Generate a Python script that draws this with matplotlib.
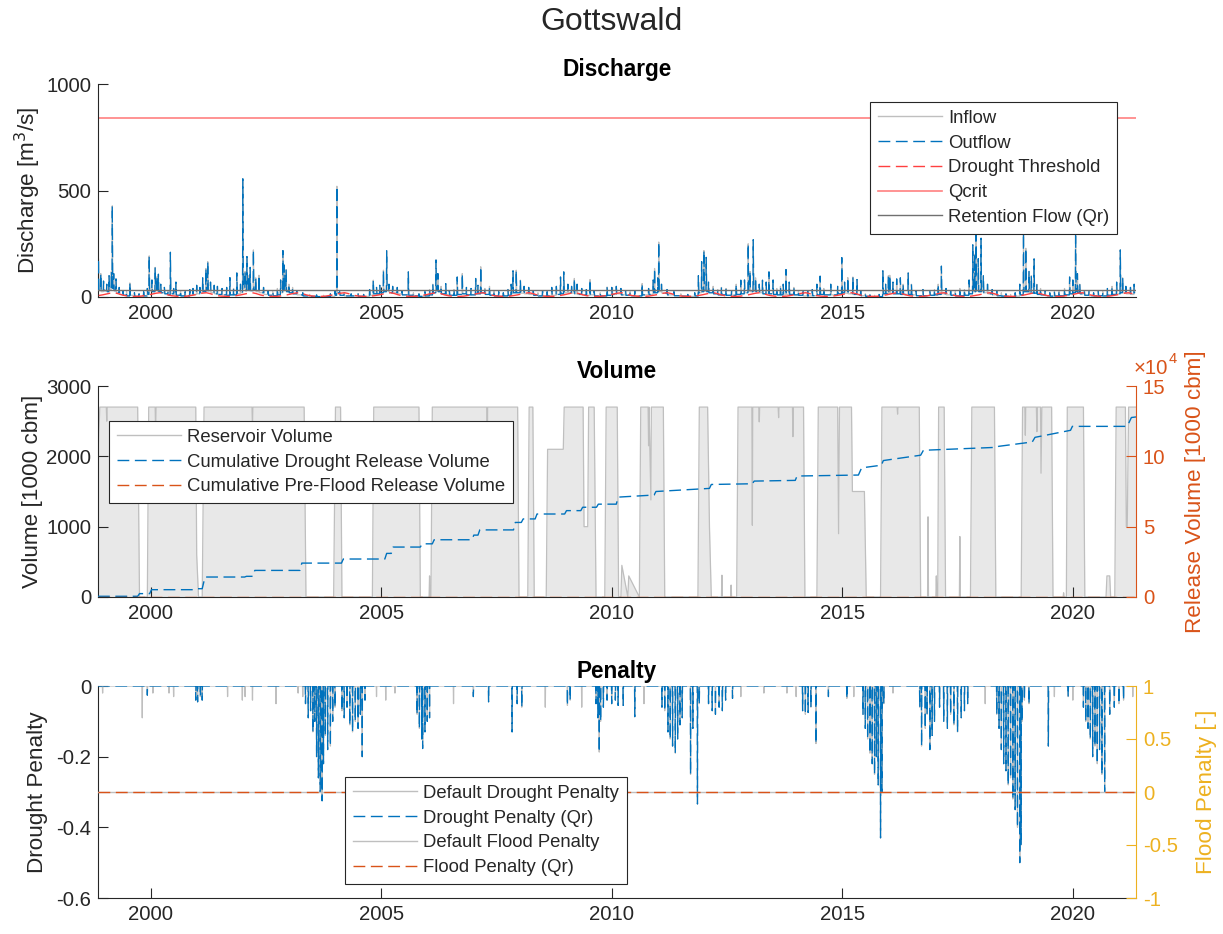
import matplotlib
matplotlib.use("Agg")
import matplotlib.pyplot as plt
from matplotlib.lines import Line2D
from matplotlib.ticker import FuncFormatter
import numpy as np

plt.rcParams['font.family'] = ['Liberation Sans', 'DejaVu Sans']
plt.rcParams['axes.unicode_minus'] = False
plt.rcParams['lines.scale_dashes'] = False

# ---------------- data ----------------
X_START, X_END = 1998.86, 2021.37
years_ticks = [2000, 2005, 2010, 2015, 2020]

# discharge events: time (decimal year), peak [m3/s], low flow after the peak
q_t = [1998.87, 1998.92, 1998.98, 1999.05, 1999.10, 1999.15, 1999.17, 1999.20, 1999.25, 1999.32,
       1999.40, 1999.48, 1999.55, 1999.65, 1999.75, 1999.85, 1999.93, 1999.97, 2000.03, 2000.10,
       2000.14, 2000.17, 2000.22, 2000.30, 2000.38, 2000.43, 2000.50, 2000.55, 2000.65, 2000.75,
       2000.85, 2000.92, 2001.00, 2001.07, 2001.13, 2001.20, 2001.24, 2001.30, 2001.38, 2001.45,
       2001.55, 2001.65, 2001.72, 2001.80, 2001.87, 2001.95, 2002.00, 2002.05, 2002.09, 2002.13,
       2002.16, 2002.23, 2002.28, 2002.35, 2002.45, 2002.55, 2002.65, 2002.75, 2002.82, 2002.87,
       2002.90, 2002.94, 2003.00, 2003.08, 2003.17, 2003.30, 2003.45, 2003.60, 2003.75, 2003.90,
       2004.00, 2004.04, 2004.10, 2004.20, 2004.35, 2004.50, 2004.62, 2004.75, 2004.83, 2004.90,
       2004.97, 2005.05, 2005.12, 2005.17, 2005.25, 2005.35, 2005.45, 2005.59, 2005.70, 2005.82,
       2005.95, 2006.05, 2006.12, 2006.19, 2006.23, 2006.30, 2006.40, 2006.48, 2006.58, 2006.65,
       2006.76, 2006.85, 2006.95, 2007.05, 2007.10, 2007.16, 2007.25, 2007.35, 2007.45, 2007.55,
       2007.65, 2007.75, 2007.82, 2007.86, 2007.93, 2008.02, 2008.10, 2008.20, 2008.30, 2008.40,
       2008.50, 2008.60, 2008.70, 2008.80, 2008.89, 2008.96, 2009.05, 2009.13, 2009.19, 2009.25,
       2009.35, 2009.45, 2009.53, 2009.62, 2009.75, 2009.90, 2010.00, 2010.10, 2010.20, 2010.30,
       2010.40, 2010.50, 2010.66, 2010.80, 2010.90, 2010.93, 2011.00, 2011.02, 2011.08, 2011.20,
       2011.35, 2011.50, 2011.65, 2011.80, 2011.88, 2011.95, 2012.00, 2012.05, 2012.10, 2012.20,
       2012.30, 2012.38, 2012.48, 2012.60, 2012.70, 2012.80, 2012.88, 2012.96, 2013.00, 2013.07,
       2013.12, 2013.20, 2013.27, 2013.35, 2013.41, 2013.50, 2013.58, 2013.66, 2013.72, 2013.78,
       2013.85, 2013.95, 2014.05, 2014.15, 2014.25, 2014.35, 2014.45, 2014.52, 2014.60, 2014.75,
       2014.90, 2014.99, 2015.05, 2015.12, 2015.23, 2015.32, 2015.40, 2015.50, 2015.60, 2015.70,
       2015.80, 2015.88, 2015.94, 2016.00, 2016.03, 2016.10, 2016.18, 2016.26, 2016.32, 2016.43,
       2016.50, 2016.60, 2016.75, 2016.90, 2017.00, 2017.08, 2017.15, 2017.25, 2017.35, 2017.45,
       2017.55, 2017.65, 2017.75, 2017.83, 2017.87, 2017.90, 2017.95, 2018.01, 2018.06, 2018.15,
       2018.25, 2018.35, 2018.45, 2018.55, 2018.65, 2018.75, 2018.85, 2018.93, 2018.98, 2019.05,
       2019.10, 2019.16, 2019.22, 2019.30, 2019.40, 2019.50, 2019.60, 2019.70, 2019.82, 2019.93,
       2020.00, 2020.06, 2020.10, 2020.15, 2020.25, 2020.35, 2020.45, 2020.55, 2020.65, 2020.75,
       2020.85, 2020.95, 2021.03, 2021.08, 2021.15, 2021.25, 2021.33]
q_peak = [180, 110, 75, 60, 100, 120, 428, 110, 85, 45,
          30, 25, 66, 20, 15, 25, 40, 193, 80, 139,
          95, 107, 60, 45, 30, 210, 40, 70, 30, 25,
          35, 40, 55, 45, 90, 134, 166, 70, 55, 50,
          40, 45, 91, 40, 113, 60, 555, 120, 190, 100,
          139, 221, 90, 102, 45, 30, 25, 40, 80, 218,
          150, 129, 60, 45, 30, 20, 12, 10, 8, 15,
          30, 520, 25, 20, 15, 15, 12, 35, 79, 45,
          55, 126, 217, 60, 50, 45, 30, 118, 20, 15,
          25, 35, 60, 174, 110, 50, 63, 30, 35, 94,
          110, 45, 40, 87, 55, 142, 40, 50, 30, 25,
          20, 35, 60, 123, 126, 79, 50, 45, 30, 20,
          30, 25, 45, 50, 94, 118, 60, 50, 87, 60,
          40, 35, 82, 30, 20, 47, 45, 50, 40, 30,
          25, 30, 63, 40, 80, 134, 90, 258, 60, 35,
          25, 15, 12, 20, 100, 166, 218, 186, 70, 50,
          35, 45, 40, 30, 60, 79, 80, 250, 120, 269,
          90, 60, 79, 70, 118, 80, 40, 50, 60, 129,
          70, 45, 30, 25, 30, 35, 60, 98, 40, 60,
          50, 185, 70, 91, 94, 82, 30, 15, 10, 8,
          12, 123, 60, 100, 102, 70, 85, 90, 60, 113,
          60, 30, 35, 25, 35, 60, 145, 40, 30, 25,
          40, 35, 80, 245, 200, 330, 180, 276, 100, 60,
          35, 30, 20, 15, 12, 20, 60, 300, 229, 120,
          100, 179, 60, 40, 30, 20, 25, 30, 40, 94,
          80, 309, 110, 60, 30, 25, 20, 30, 25, 40,
          50, 70, 221, 90, 50, 45, 60]
q_low = [30, 25, 30, 25, 35, 40, 40, 30, 20, 12,
         8, 5, 8, 3, 3, 5, 12, 30, 25, 35,
         30, 25, 20, 15, 10, 15, 10, 8, 5, 5,
         8, 12, 15, 20, 25, 30, 30, 20, 15, 12,
         10, 8, 10, 10, 15, 20, 40, 30, 35, 30,
         30, 35, 25, 20, 12, 8, 6, 10, 20, 30,
         30, 25, 20, 15, 10, 5, 3, 2, 2, 3,
         8, 20, 8, 5, 5, 3, 3, 8, 15, 15,
         20, 25, 30, 20, 20, 15, 10, 8, 5, 3,
         5, 10, 20, 30, 25, 15, 12, 8, 8, 12,
         15, 10, 10, 15, 15, 20, 12, 8, 5, 5,
         5, 8, 15, 20, 20, 18, 15, 12, 8, 5,
         5, 5, 8, 12, 15, 20, 20, 18, 15, 12,
         10, 8, 10, 5, 5, 8, 12, 15, 10, 8,
         6, 5, 10, 12, 20, 20, 25, 25, 18, 10,
         6, 4, 3, 5, 20, 25, 30, 25, 20, 15,
         10, 10, 8, 8, 12, 15, 20, 30, 25, 30,
         25, 20, 15, 15, 15, 12, 10, 10, 10, 12,
         12, 10, 8, 5, 5, 6, 10, 12, 10, 10,
         15, 20, 18, 15, 12, 10, 6, 3, 2, 2,
         2, 15, 15, 18, 18, 15, 15, 12, 12, 12,
         10, 6, 6, 8, 10, 12, 15, 10, 8, 5,
         6, 8, 15, 25, 25, 30, 25, 25, 20, 15,
         10, 6, 4, 3, 2, 4, 10, 25, 25, 20,
         18, 18, 12, 10, 6, 4, 5, 6, 10, 15,
         20, 25, 20, 15, 8, 6, 5, 6, 5, 8,
         12, 15, 20, 20, 15, 12, 20]

# monthly drought threshold [m3/s], Jan..Dec
thr_month = [14, 18, 20, 16, 10, 6, 4, 3, 3, 4, 7, 10]
Q_CRIT = 840
Q_RETENTION = 35

# reservoir volume [1000 cbm]
vol_t = [1998.86, 1998.90, 1999.04, 1999.05, 1999.06, 1999.72, 1999.76, 1999.93, 1999.96, 2000.10,
         2000.11, 2000.12, 2000.98, 2001.00, 2001.04, 2001.12, 2001.16, 2002.20, 2002.21, 2002.22,
         2003.33, 2003.37, 2003.97, 2004.01, 2004.12, 2004.15, 2004.81, 2004.84, 2005.82, 2005.85,
         2006.04, 2006.05, 2006.06, 2006.08, 2006.11, 2007.29, 2007.30, 2007.31, 2007.96, 2007.99,
         2008.18, 2008.21, 2008.29, 2008.32, 2008.58, 2008.61, 2008.95, 2008.97, 2009.38, 2009.40,
         2009.48, 2009.50, 2009.62, 2009.66, 2009.85, 2009.88, 2010.12, 2010.15, 2010.20, 2010.22,
         2010.35, 2010.37, 2010.60, 2010.63, 2010.79, 2010.80, 2010.81, 2010.85, 2010.86, 2011.12,
         2011.15, 2011.87, 2011.90, 2012.08, 2012.12, 2012.16, 2012.38, 2012.39, 2012.40, 2012.58,
         2012.59, 2012.60, 2012.71, 2012.74, 2013.04, 2013.05, 2013.06, 2013.19, 2013.20, 2013.21,
         2013.61, 2013.62, 2013.63, 2013.92, 2013.93, 2013.94, 2014.16, 2014.19, 2014.45, 2014.48,
         2014.90, 2014.92, 2014.94, 2015.20, 2015.22, 2015.48, 2015.52, 2015.83, 2015.86, 2016.19,
         2016.20, 2016.21, 2016.67, 2016.70, 2016.85, 2016.86, 2016.87, 2017.03, 2017.04, 2017.05,
         2017.07, 2017.09, 2017.21, 2017.24, 2017.54, 2017.55, 2017.56, 2017.78, 2017.81, 2018.30,
         2018.33, 2018.88, 2018.91, 2018.96, 2018.97, 2018.98, 2019.21, 2019.22, 2019.23, 2019.30,
         2019.31, 2019.33, 2019.54, 2019.57, 2019.79, 2019.80, 2019.81, 2019.86, 2019.88, 2020.23,
         2020.26, 2020.72, 2020.74, 2020.80, 2020.82, 2020.91, 2020.94, 2021.14, 2021.16, 2021.18,
         2021.21, 2021.37]
vol_v = [2050, 2700, 2700, 2500, 2700, 2700, 0, 0, 2700, 2700,
         2300, 2700, 2700, 600, 0, 0, 2700, 2700, 2400, 2700,
         2700, 0, 0, 2700, 2700, 0, 0, 2700, 2700, 0,
         0, 300, 0, 0, 2700, 2700, 1800, 2700, 2700, 0,
         0, 2700, 2700, 0, 0, 2100, 2100, 2700, 2700, 1000,
         1000, 2700, 2700, 0, 0, 2700, 2700, 0, 0, 450,
         0, 300, 0, 2700, 2700, 2150, 2700, 1380, 2700, 2700,
         0, 0, 2700, 2700, 1000, 0, 0, 310, 0, 0,
         170, 0, 0, 2700, 2700, 1020, 2700, 2700, 2490, 2700,
         2700, 2550, 2700, 2700, 2280, 2700, 2700, 0, 0, 2700,
         2700, 900, 2700, 2700, 1500, 1500, 0, 0, 2700, 2700,
         2600, 2700, 2700, 0, 0, 1140, 0, 0, 300, 0,
         0, 2700, 2700, 0, 0, 860, 0, 0, 2700, 2700,
         0, 0, 2700, 2700, 2300, 2700, 2700, 2350, 2700, 2700,
         1760, 2700, 2700, 0, 0, 60, 0, 0, 2700, 2700,
         0, 0, 300, 300, 0, 0, 2700, 2700, 1000, 1000,
         2700, 2700]

# cumulative drought release volume [1000 cbm] (step points)
cum_t = [1998.86, 1999.72, 1999.76, 1999.98, 2000.02, 2000.92, 2000.96, 2001.12, 2001.18, 2002.04,
         2002.08, 2002.22, 2002.26, 2003.24, 2003.28, 2004.14, 2004.18, 2005.08, 2005.12, 2005.22,
         2005.26, 2005.85, 2005.89, 2006.11, 2006.15, 2006.97, 2007.01, 2007.10, 2007.14, 2007.87,
         2007.91, 2008.04, 2008.08, 2008.34, 2008.38, 2008.98, 2009.02, 2009.33, 2009.37, 2009.67,
         2009.71, 2010.10, 2010.14, 2010.92, 2010.96, 2012.12, 2012.16, 2013.05, 2013.09, 2013.98,
         2014.02, 2015.35, 2015.42, 2015.85, 2015.89, 2016.70, 2016.76, 2018.35, 2018.39, 2019.12,
         2019.18, 2019.95, 2019.99, 2021.18, 2021.27, 2021.37]
cum_v = [500, 500, 2400, 2400, 5200, 5200, 5900, 5900, 14200, 14200,
         14700, 14700, 18900, 18900, 24100, 24100, 27000, 27000, 31000, 31000,
         35500, 35500, 37800, 37800, 40700, 40700, 44000, 44000, 47700, 47700,
         53000, 53000, 55500, 55500, 59000, 59000, 61400, 61400, 63800, 63800,
         66000, 66000, 71000, 72500, 75000, 77200, 80000, 80500, 82400, 82900,
         86000, 86700, 91800, 93700, 97000, 100800, 104300, 106400, 107100, 110200,
         113500, 118500, 121300, 121300, 127600, 128000]
pre_flood_t = [X_START, X_END]
pre_flood_v = [0, 0]

# drought penalty (Qr) events: time, penalty
dp_t = [1999.93, 2000.98, 2001.02, 2001.08, 2001.12, 2003.36, 2003.42, 2003.47, 2003.52, 2003.56,
        2003.60, 2003.64, 2003.68, 2003.72, 2003.75, 2003.79, 2003.84, 2003.90, 2003.95, 2004.00,
        2004.15, 2004.20, 2004.26, 2004.32, 2004.38, 2004.44, 2004.50, 2004.55, 2004.59, 2004.65,
        2005.78, 2005.83, 2005.88, 2005.90, 2005.95, 2006.00, 2006.05, 2007.00, 2007.33, 2007.84,
        2007.95, 2008.05, 2009.04, 2009.10, 2009.66, 2009.70, 2009.73, 2009.76, 2009.82, 2009.90,
        2010.00, 2010.08, 2010.14, 2010.25, 2010.50, 2011.09, 2011.15, 2011.22, 2011.27, 2011.32,
        2011.38, 2011.43, 2011.48, 2011.53, 2011.71, 2011.76, 2011.86, 2011.90, 2012.10, 2012.18,
        2012.25, 2012.33, 2012.40, 2012.47, 2012.62, 2014.14, 2014.20, 2014.26, 2014.32, 2014.43,
        2014.70, 2015.10, 2015.45, 2015.50, 2015.55, 2015.60, 2015.65, 2015.70, 2015.74, 2015.78,
        2015.83, 2015.86, 2015.90, 2016.68, 2016.72, 2016.80, 2016.84, 2016.90, 2016.95, 2017.00,
        2017.11, 2017.20, 2017.28, 2017.35, 2017.42, 2017.50, 2017.58, 2017.65, 2017.72, 2018.35,
        2018.40, 2018.45, 2018.50, 2018.55, 2018.60, 2018.65, 2018.70, 2018.75, 2018.80, 2018.85,
        2018.88, 2018.90, 2018.95, 2019.05, 2019.47, 2019.90, 2020.23, 2020.28, 2020.33, 2020.38,
        2020.43, 2020.48, 2020.53, 2020.58, 2020.63, 2020.69, 2020.80, 2020.90, 2021.00, 2021.10]
dp_v = [-0.026, -0.04, -0.045, -0.03, -0.04, -0.05, -0.09, -0.07, -0.13, -0.10,
        -0.20, -0.26, -0.30, -0.325, -0.22, -0.14, -0.18, -0.17, -0.10, -0.06,
        -0.07, -0.09, -0.06, -0.11, -0.13, -0.10, -0.12, -0.08, -0.20, -0.04,
        -0.08, -0.12, -0.15, -0.177, -0.13, -0.10, -0.09, -0.03, -0.045, -0.13,
        -0.05, -0.06, -0.055, -0.04, -0.05, -0.09, -0.187, -0.10, -0.06, -0.04,
        -0.05, -0.04, -0.055, -0.055, -0.087, -0.06, -0.07, -0.13, -0.15, -0.17,
        -0.19, -0.15, -0.11, -0.09, -0.25, -0.12, -0.334, -0.05, -0.05, -0.07,
        -0.08, -0.06, -0.07, -0.04, -0.035, -0.07, -0.08, -0.075, -0.06, -0.163,
        -0.03, -0.035, -0.08, -0.12, -0.15, -0.19, -0.22, -0.25, -0.20, -0.28,
        -0.43, -0.30, -0.05, -0.06, -0.17, -0.12, -0.08, -0.18, -0.14, -0.10,
        -0.06, -0.10, -0.12, -0.08, -0.11, -0.13, -0.09, -0.07, -0.05, -0.08,
        -0.12, -0.18, -0.22, -0.24, -0.28, -0.26, -0.32, -0.35, -0.40, -0.50,
        -0.45, -0.10, -0.04, -0.05, -0.17, -0.03, -0.06, -0.10, -0.12, -0.15,
        -0.20, -0.17, -0.22, -0.18, -0.25, -0.30, -0.08, -0.06, -0.05, -0.04]
# extra events only in the default drought penalty
ddp_t = [1998.96, 1999.82, 2000.05, 2000.40, 2000.50, 2001.67, 2001.99, 2002.05, 2002.21, 2002.72,
         2003.20, 2003.30, 2004.90, 2005.10, 2005.30, 2006.57, 2008.56, 2009.35, 2010.70, 2012.80,
         2013.30, 2013.80, 2014.00, 2015.25, 2016.10, 2018.10, 2019.60, 2020.00, 2021.30]
ddp_v = [-0.02, -0.09, -0.02, -0.02, -0.03, -0.03, -0.04, -0.03, -0.04, -0.05,
         -0.02, -0.03, -0.03, -0.04, -0.02, -0.05, -0.06, -0.06, -0.05, -0.03,
         -0.02, -0.02, -0.03, -0.03, -0.02, -0.05, -0.03, -0.04, -0.03]
flood_pen_t = [X_START, X_END]
flood_pen_v = [0, 0]

# ---------------- styling ----------------
C_AX = '#262626'
C_BLUE = '#0072BD'
C_ORANGE = '#D95319'
C_YELLOW = '#EDB120'
C_GREY = '#BFBFBF'
DASH = (0, (8.5, 4.0))
FS_TICK = 14.7
FS_LABEL = 16.2
FS_LEG = 13.3
FS_TITLE = 16.3


def discharge_line(t, peak, low):
    xs, ys = [], []
    prev = low[0]
    for ti, pi, li in zip(t, peak, low):
        xs += [ti - 0.006, ti, ti + 0.01]
        ys += [prev, pi, li]
        prev = li
    return np.array(xs), np.array(ys)


def penalty_line(t, v):
    pairs = sorted(zip(t, v))
    xs, ys = [X_START], [0.0]
    for ti, vi in pairs:
        xs += [ti - 0.005, ti, ti + 0.005]
        ys += [0.0, vi, 0.0]
    xs.append(X_END)
    ys.append(0.0)
    return np.array(xs), np.array(ys)


def style_axis(ax):
    ax.set_xlim(X_START, X_END)
    ax.set_xticks(years_ticks)
    ax.set_xticklabels([str(y) for y in years_ticks])
    ax.tick_params(direction='in', length=7, width=0.8, labelsize=FS_TICK, colors=C_AX, pad=5)
    ax.spines['top'].set_visible(False)
    ax.spines['right'].set_visible(False)
    for s in ('left', 'bottom'):
        ax.spines[s].set_color(C_AX)
        ax.spines[s].set_linewidth(0.8)


def make_legend(ax, handles, labels, x_px, y_px):
    leg = ax.legend(handles, labels, loc='upper left',
                    bbox_to_anchor=(x_px / 1223, 1 - y_px / 934),
                    bbox_transform=fig.transFigure, fontsize=FS_LEG, frameon=True,
                    fancybox=False, edgecolor=C_AX, framealpha=1, handlelength=3.5,
                    labelspacing=0.42, borderpad=0.42, handletextpad=0.3, borderaxespad=0)
    leg.get_frame().set_linewidth(0.8)
    for txt in leg.get_texts():
        txt.set_color(C_AX)
    leg.set_zorder(10)
    return leg


fig = plt.figure(figsize=(12.23, 9.34), dpi=100)
fig.text(0.5, 1 - 22 / 934, 'Gottswald', ha='center', va='center', fontsize=23, color=C_AX)

L, W = 98 / 1223, (1136 - 98) / 1223

# ---- Discharge ----
ax1 = fig.add_axes([L, 1 - 297 / 934, W, (297 - 84) / 934])
style_axis(ax1)
qx, qy = discharge_line(q_t, q_peak, q_low)
ax1.plot(qx, qy, color=C_GREY, lw=0.9, zorder=2)
ax1.plot(qx, qy, color=C_BLUE, lw=0.9, linestyle=DASH, zorder=3)
thr_x, thr_y = [], []
for yr in range(1998, 2022):
    for m in range(12):
        tt = yr + (m + 0.5) / 12
        if X_START <= tt <= X_END:
            thr_x.append(tt)
            thr_y.append(thr_month[m])
ax1.plot(thr_x, thr_y, color='#FF4040', lw=1.0, linestyle=DASH, zorder=4)
ax1.axhline(Q_CRIT, color='#FF8080', lw=1.2, zorder=2)
ax1.axhline(Q_RETENTION, color='#707070', lw=1.0, zorder=4)
ax1.set_ylim(0, 1000)
ax1.set_yticks([0, 500, 1000])
ax1.set_ylabel('Discharge [m$^3$/s]', fontsize=FS_LABEL, color=C_AX, labelpad=2)
ax1.set_title('Discharge', fontsize=FS_TITLE, fontweight='bold', color='black', pad=6)
h1 = [Line2D([], [], color=C_GREY, lw=1.0),
      Line2D([], [], color=C_BLUE, lw=1.0, linestyle=DASH),
      Line2D([], [], color='#FF4040', lw=1.0, linestyle=DASH),
      Line2D([], [], color='#FF8080', lw=1.2),
      Line2D([], [], color='#707070', lw=1.0)]
lab1 = ['Inflow', 'Outflow', 'Drought Threshold', 'Qcrit', 'Retention Flow (Qr)']
make_legend(ax1, h1, lab1, 870, 102)

# ---- Volume ----
ax2 = fig.add_axes([L, 1 - 597 / 934, W, (597 - 386) / 934])
style_axis(ax2)
ax2.fill_between(vol_t, vol_v, 0, color='#E8E8E8', lw=0, zorder=1)
ax2.plot(vol_t, vol_v, color=C_GREY, lw=0.9, zorder=2)
ax2.set_ylim(0, 3000)
ax2.set_yticks([0, 1000, 2000, 3000])
ax2.set_ylabel('Volume [1000 cbm]', fontsize=FS_LABEL, color=C_AX, labelpad=2)
ax2.set_title('Volume', fontsize=FS_TITLE, fontweight='bold', color='black', pad=6)
ax2r = ax2.twinx()
ax2r.set_xlim(X_START, X_END)
ax2r.plot(cum_t, cum_v, color=C_BLUE, lw=1.0, linestyle=DASH, zorder=3)
ax2r.plot(pre_flood_t, pre_flood_v, color=C_ORANGE, lw=1.0, linestyle=DASH, zorder=3)
ax2r.set_ylim(0, 150000)
ax2r.set_yticks([0, 50000, 100000, 150000])
ax2r.yaxis.set_major_formatter(FuncFormatter(lambda v, p: '%g' % (v / 1e4)))
for s in ('top', 'left', 'bottom'):
    ax2r.spines[s].set_visible(False)
ax2r.spines['right'].set_color(C_ORANGE)
ax2r.spines['right'].set_linewidth(0.8)
ax2r.tick_params(axis='y', direction='in', length=7, width=0.8, labelsize=FS_TICK,
                 colors=C_ORANGE, pad=5)
ax2r.set_ylabel('Release Volume [1000 cbm]', fontsize=FS_LABEL, color=C_ORANGE, labelpad=14)
fig.text(1134 / 1223, 1 - 369 / 934, '\u00d710', color=C_ORANGE,
         fontsize=FS_TICK, ha='left', va='center')
fig.text(1169 / 1223, 1 - 359 / 934, '4', color=C_ORANGE,
         fontsize=10.5, ha='left', va='center')
h2 = [Line2D([], [], color=C_GREY, lw=1.0),
      Line2D([], [], color=C_BLUE, lw=1.0, linestyle=DASH),
      Line2D([], [], color=C_ORANGE, lw=1.0, linestyle=DASH)]
lab2 = ['Reservoir Volume', 'Cumulative Drought Release Volume', 'Cumulative Pre-Flood Release Volume']
make_legend(ax2r, h2, lab2, 109, 421)

# ---- Penalty ----
ax3 = fig.add_axes([L, 1 - 898 / 934, W, (898 - 686) / 934])
style_axis(ax3)
dx, dy = penalty_line(dp_t + ddp_t, dp_v + ddp_v)
px, py = penalty_line(dp_t, dp_v)
ax3.plot(dx, dy, color=C_GREY, lw=0.9, zorder=2)
ax3.plot(px, py, color=C_BLUE, lw=0.9, linestyle=DASH, zorder=3)
ax3.set_ylim(-0.6, 0)
ax3.set_yticks([-0.6, -0.4, -0.2, 0])
ax3.set_yticklabels(['-0.6', '-0.4', '-0.2', '0'])
ax3.set_ylabel('Drought Penalty', fontsize=FS_LABEL, color=C_AX, labelpad=6)
ax3.set_title('Penalty', fontsize=FS_TITLE, fontweight='bold', color='black', pad=6)
ax3r = ax3.twinx()
ax3r.set_xlim(X_START, X_END)
ax3r.plot(flood_pen_t, flood_pen_v, color=C_GREY, lw=1.0, zorder=2)
ax3r.plot(flood_pen_t, flood_pen_v, color=C_ORANGE, lw=1.0, linestyle=DASH, zorder=3)
ax3r.set_ylim(-1, 1)
ax3r.set_yticks([-1, -0.5, 0, 0.5, 1])
ax3r.set_yticklabels(['-1', '-0.5', '0', '0.5', '1'])
for s in ('top', 'left', 'bottom'):
    ax3r.spines[s].set_visible(False)
ax3r.spines['right'].set_color(C_YELLOW)
ax3r.spines['right'].set_linewidth(0.8)
ax3r.tick_params(axis='y', direction='in', length=7, width=0.8, labelsize=FS_TICK,
                 colors=C_YELLOW, pad=5)
ax3r.set_ylabel('Flood Penalty [-]', fontsize=FS_LABEL, color=C_YELLOW, labelpad=13)
h3 = [Line2D([], [], color=C_GREY, lw=1.0),
      Line2D([], [], color=C_BLUE, lw=1.0, linestyle=DASH),
      Line2D([], [], color=C_GREY, lw=1.0),
      Line2D([], [], color=C_ORANGE, lw=1.0, linestyle=DASH)]
lab3 = ['Default Drought Penalty', 'Drought Penalty (Qr)', 'Default Flood Penalty', 'Flood Penalty (Qr)']
make_legend(ax3r, h3, lab3, 345, 777)

fig.savefig('out.png', dpi=100)
